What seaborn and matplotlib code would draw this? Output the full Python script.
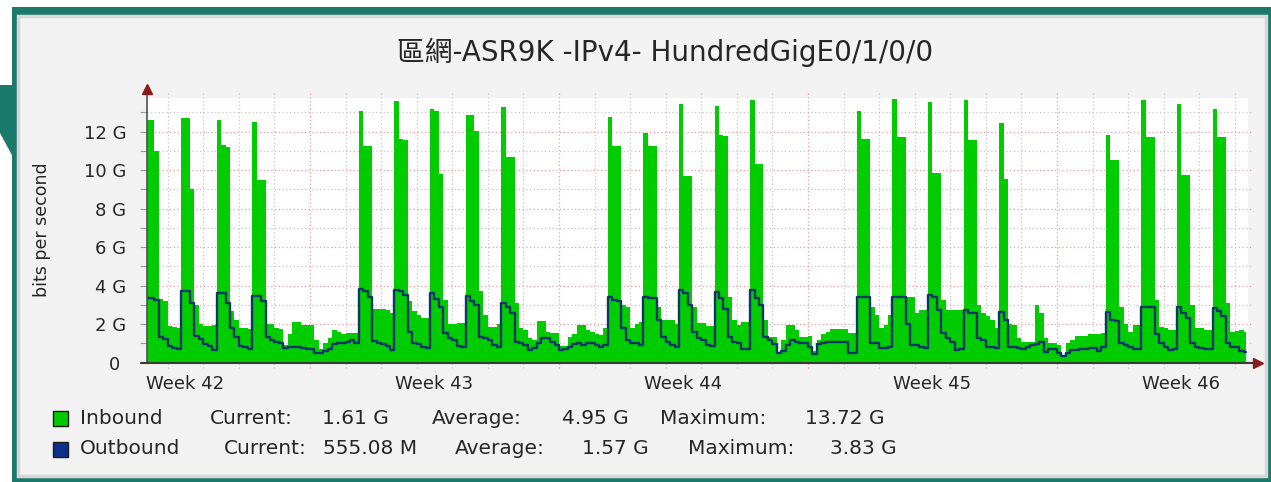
import numpy as np
import matplotlib
matplotlib.use("Agg")
import matplotlib.pyplot as plt
import seaborn as sns
from matplotlib.patches import Rectangle, Polygon

# ---------------- data (Gbit/s, 3-hour samples) ----------------
title_text = "區網-ASR9K -IPv4- HundredGigE0/1/0/0"
y_axis_label = "bits per second"
sample_start_day = 2.375      # days after Sunday 00:00 that begins week 42
sample_step_day = 0.125       # 3 hours
data_end_day = 33.31

inbound_gbps = [
    12.6, 12.6, 11.0, 3.3, 3.2,                          # day 2 (from 09:00)
    1.9, 1.85, 1.8, 12.7, 12.7, 9.0, 3.0, 2.0,           # day 3
    1.9, 1.9, 1.95, 12.6, 11.3, 11.2, 2.7, 2.2,          # day 4
    1.8, 1.8, 1.75, 12.5, 9.5, 9.5, 2.0, 2.0,            # day 5
    1.8, 1.75, 0.9, 1.5, 2.1, 2.1, 1.95, 1.95,           # day 6
    1.95, 1.2, 0.7, 1.0, 1.3, 1.7, 1.6, 1.5,             # day 7
    1.52, 1.52, 1.55, 13.1, 11.25, 11.25, 2.8, 2.8,      # day 8
    2.77, 2.75, 2.6, 13.6, 11.6, 11.57, 3.2, 2.7,        # day 9
    2.5, 2.3, 2.3, 13.16, 13.1, 9.8, 3.26, 2.0,          # day 10
    2.0, 2.04, 2.04, 12.87, 12.87, 12.05, 3.7, 2.5,      # day 11
    1.87, 1.87, 2.0, 13.3, 10.67, 10.67, 3.08, 1.8,      # day 12
    1.7, 1.3, 1.2, 2.18, 2.18, 1.6, 1.52, 1.52,          # day 13
    0.85, 0.85, 1.35, 1.5, 1.96, 1.96, 1.7, 1.6,         # day 14
    1.5, 1.44, 1.78, 12.75, 11.25, 11.25, 3.0, 2.9,      # day 15
    1.78, 2.0, 2.13, 11.95, 11.25, 11.25, 2.9, 2.2,      # day 16
    2.2, 2.2, 2.0, 13.44, 9.7, 9.7, 2.9, 2.04,           # day 17
    2.04, 1.9, 1.9, 13.33, 11.83, 11.8, 3.4, 2.2,        # day 18
    1.96, 2.13, 2.13, 13.64, 10.32, 10.32, 2.2, 1.35,    # day 19
    1.35, 0.5, 1.2, 1.96, 1.96, 1.7, 1.35, 1.35,         # day 20
    1.39, 0.6, 1.2, 1.5, 1.6, 1.73, 1.73, 1.73,          # day 21
    1.73, 1.52, 1.55, 13.1, 11.6, 11.6, 2.9, 2.5,        # day 22
    1.78, 1.96, 2.5, 13.72, 11.7, 11.7, 3.43, 3.43,      # day 23
    2.56, 2.74, 2.74, 13.56, 9.87, 9.87, 3.26, 2.74,     # day 24
    2.74, 2.74, 2.74, 13.64, 11.57, 11.57, 3.0, 2.56,    # day 25
    2.4, 2.2, 1.8, 12.43, 9.54, 2.0, 1.96, 1.3,          # day 26
    1.09, 1.09, 1.09, 3.0, 2.56, 1.26, 1.0, 1.0,         # day 27
    0.9, 0.3, 1.0, 1.18, 1.39, 1.39, 1.39, 1.49,         # day 28
    1.49, 1.49, 1.55, 11.83, 10.53, 10.53, 2.9, 2.0,     # day 29
    1.6, 1.96, 1.96, 13.64, 11.7, 11.7, 3.26, 1.87,      # day 30
    1.8, 1.7, 1.7, 13.44, 9.75, 9.75, 3.0, 1.78,         # day 31
    1.78, 1.7, 1.7, 13.18, 11.7, 11.7, 3.12, 1.6,        # day 32
    1.65, 1.7, 1.61,                                     # day 33
]

outbound_gbps = [
    3.35, 3.35, 3.25, 1.35, 1.25,
    0.85, 0.75, 0.7, 3.7, 3.7, 3.1, 1.4, 1.25,
    0.95, 0.85, 0.65, 3.6, 3.6, 3.1, 1.8, 1.35,
    0.85, 0.8, 0.7, 3.45, 3.45, 3.2, 1.35, 1.2,
    1.1, 1.0, 0.75, 0.8, 0.82, 0.8, 0.75, 0.72,
    0.7, 0.5, 0.48, 0.6, 0.7, 0.95, 1.0, 1.0,
    1.1, 1.18, 1.0, 3.83, 3.7, 3.43, 1.15, 1.0,
    0.95, 0.85, 0.68, 3.8, 3.7, 3.5, 1.6, 1.0,
    0.95, 0.8, 0.75, 3.6, 3.3, 2.9, 1.52, 1.3,
    1.2, 0.85, 0.83, 3.46, 3.2, 3.0, 1.35, 1.3,
    1.2, 0.9, 0.83, 3.08, 2.9, 2.6, 1.09, 1.0,
    0.9, 0.66, 0.75, 1.0, 1.26, 1.26, 1.1, 0.92,
    0.66, 0.7, 0.8, 0.95, 1.0, 0.92, 1.0, 1.0,
    0.9, 0.83, 0.9, 3.43, 3.26, 3.2, 1.78, 1.18,
    1.0, 1.0, 0.92, 3.43, 3.34, 3.34, 2.2, 1.35,
    1.1, 0.9, 0.83, 3.8, 3.6, 3.0, 1.6, 1.3,
    1.2, 0.9, 0.85, 3.69, 3.34, 2.8, 1.35, 1.1,
    1.0, 0.69, 0.69, 3.8, 3.34, 3.0, 1.35, 1.2,
    0.95, 0.5, 0.6, 0.9, 1.2, 1.1, 1.0, 1.0,
    0.83, 0.45, 0.95, 1.0, 1.09, 1.09, 1.09, 1.09,
    1.05, 0.48, 0.5, 3.43, 3.43, 3.4, 1.0, 1.0,
    0.74, 0.74, 0.8, 3.43, 3.43, 3.43, 2.0, 0.92,
    0.92, 0.8, 0.74, 3.5, 3.43, 2.74, 1.52, 1.26,
    1.1, 0.66, 0.69, 2.74, 2.56, 2.56, 1.26, 1.2,
    0.83, 0.83, 0.75, 2.65, 2.22, 0.83, 0.83, 0.74,
    0.7, 0.83, 0.92, 0.95, 1.09, 0.57, 0.69, 0.69,
    0.52, 0.35, 0.5, 0.66, 0.66, 0.69, 0.69, 0.74,
    0.74, 0.6, 0.8, 2.65, 2.22, 2.15, 1.0, 0.9,
    0.83, 0.7, 0.7, 2.9, 2.9, 2.9, 1.5, 1.0,
    0.8, 0.66, 0.7, 2.9, 2.56, 2.3, 1.0, 0.83,
    0.75, 0.69, 0.69, 2.82, 2.7, 2.4, 1.0, 0.83,
    0.83, 0.6, 0.555,
]

y_tick_values = [0, 2, 4, 6, 8, 10, 12]
y_tick_labels = ["0 ", "2 G", "4 G", "6 G", "8 G", "10 G", "12 G"]
week_labels = ["Week 42", "Week 43", "Week 44", "Week 45", "Week 46"]
week_start_days = [0, 7, 14, 21, 28]

series_names = ["Inbound", "Outbound"]
current_text = ["1.61 G", "555.08 M"]
average_text = ["4.95 G", "1.57 G"]
maximum_text = ["13.72 G", "3.83 G"]

# ---------------- style ----------------
sns.set_theme(style="white")
plt.rcParams["font.family"] = ["DejaVu Sans", "Noto Sans CJK TC"]

W, H = 1271, 482
GREEN = "#00cc00"
BLUE = "#0b2f8a"
LINE_BLUE = "#0a3768"
TEAL = "#1c7a6d"
TXT = "#262626"
RED_GRID = "#f09a9a"
GREY_GRID = "#c4c4c4"

fig = plt.figure(figsize=(W / 100, H / 100), dpi=100, facecolor="white")


def fx(x):
    return x / W


def fy(y):
    return 1 - y / H


# frame and panel (drawn below the axes)
fig.patches.append(Rectangle((fx(12), 0), fx(W) - fx(12), fy(7), transform=fig.transFigure,
                             facecolor=TEAL, edgecolor="none", zorder=-3))
fig.patches.append(Polygon([(fx(0), fy(85)), (fx(13), fy(85)), (fx(13), fy(157)), (fx(0), fy(133))],
                           closed=True, transform=fig.transFigure, facecolor=TEAL,
                           edgecolor="none", zorder=-3))
fig.patches.append(Rectangle((fx(18), fy(476)), (1266 - 18) / W, (476 - 16) / H,
                             transform=fig.transFigure, facecolor="#f2f2f2",
                             edgecolor="#d6d6d6", linewidth=2.5, zorder=-2))

# plot axes
left_px, right_px, top_px, bottom_px = 147.3, 1247.7, 98.3, 362.7
ax = fig.add_axes([fx(left_px), fy(bottom_px), (right_px - left_px) / W, (bottom_px - top_px) / H])
ax.set_zorder(2)
ax.set_facecolor("white")
for s in ax.spines.values():
    s.set_visible(False)

n = len(inbound_gbps)
x = sample_start_day + sample_step_day * np.arange(n)
x_ext = np.append(x, data_end_day)
in_ext = np.append(inbound_gbps, inbound_gbps[-1])
out_ext = np.append(outbound_gbps, outbound_gbps[-1])

x_min = sample_start_day + 0.051
x_max = 33.363
ax.set_xlim(x_min, x_max)
ax.set_ylim(0, 13.735)

# grid
for v in range(1, 14):
    ax.axhline(v, xmin=0, xmax=1.004, color=RED_GRID if v % 2 == 0 else GREY_GRID,
               ls=(0, (1, 2)), lw=0.9, zorder=1, clip_on=False)
for d in range(3, 34):
    is_week = (d % 7 == 0)
    ax.axvline(d, ymin=-0.02, ymax=1.02, color=RED_GRID if is_week else GREY_GRID,
               ls=(0, (1, 2)), lw=0.9, zorder=1, clip_on=False)

ax.fill_between(x_ext, 0, in_ext, step="post", color=GREEN, linewidth=0, zorder=2)
sns.lineplot(x=x_ext, y=out_ext, drawstyle="steps-post", color=LINE_BLUE, linewidth=1.7,
             estimator=None, sort=False, ax=ax, zorder=3)

# axes lines + arrows
ax.plot([0, 0], [0, 1.03], transform=ax.transAxes, color="#505050", lw=1.2, clip_on=False, zorder=4)
ax.plot([-0.006, 1.008], [0, 0], transform=ax.transAxes, color="#3a3a3a", lw=1.5, clip_on=False, zorder=4)
ax.plot([0], [1.035], marker="^", ms=7, color="#8b1c1c", transform=ax.transAxes, clip_on=False, zorder=5)
ax.plot([1.009], [0], marker=">", ms=7, color="#8b1c1c", transform=ax.transAxes, clip_on=False, zorder=5)

# ticks
ax.set_yticks(y_tick_values, labels=y_tick_labels)
ax.set_yticks(range(1, 14, 2), minor=True)
week_centers = [d + 3.5 for d in week_start_days]
ax.set_xticks(week_centers, labels=week_labels)
ax.tick_params(axis="y", which="both", left=True, length=5, width=0.8, color="#9a9a9a",
               pad=10, labelsize=13, labelcolor=TXT)
ax.tick_params(axis="x", which="major", bottom=False, length=0, pad=9,
               labelsize=13, labelcolor=TXT)
ax.set_xlabel("")
ax.set_ylabel("")

# texts
fig.text(fx(665), fy(52), title_text, ha="center", va="center", fontsize=20, color=TXT)
fig.text(fx(42), fy(230), y_axis_label, ha="center", va="center", rotation=90,
         fontsize=12.5, color=TXT)

# legend
row_y = [418, 449]
square_colors = [GREEN, BLUE]
name_x = [80, 80]
cur_lbl_x = [210, 224]
cur_val_x = [322, 323]
avg_lbl_x = [432, 455]
avg_val_x = [562, 582]
max_lbl_x = [660, 688]
max_val_x = [805, 830]
for i in range(2):
    y = row_y[i]
    fig.patches.append(Rectangle((fx(53), fy(y + 8)), 15 / W, 15 / H, transform=fig.transFigure,
                                 facecolor=square_colors[i], edgecolor="#1a1a1a", lw=1.0, zorder=3))
    for label, xp in [(series_names[i], name_x[i]), ("Current:", cur_lbl_x[i]),
                      (current_text[i], cur_val_x[i]), ("Average:", avg_lbl_x[i]),
                      (average_text[i], avg_val_x[i]), ("Maximum:", max_lbl_x[i]),
                      (maximum_text[i], max_val_x[i])]:
        fig.text(fx(xp), fy(y), label, ha="left", va="center", fontsize=14.5, color=TXT)

fig.savefig("out.png", dpi=100, facecolor="white")
